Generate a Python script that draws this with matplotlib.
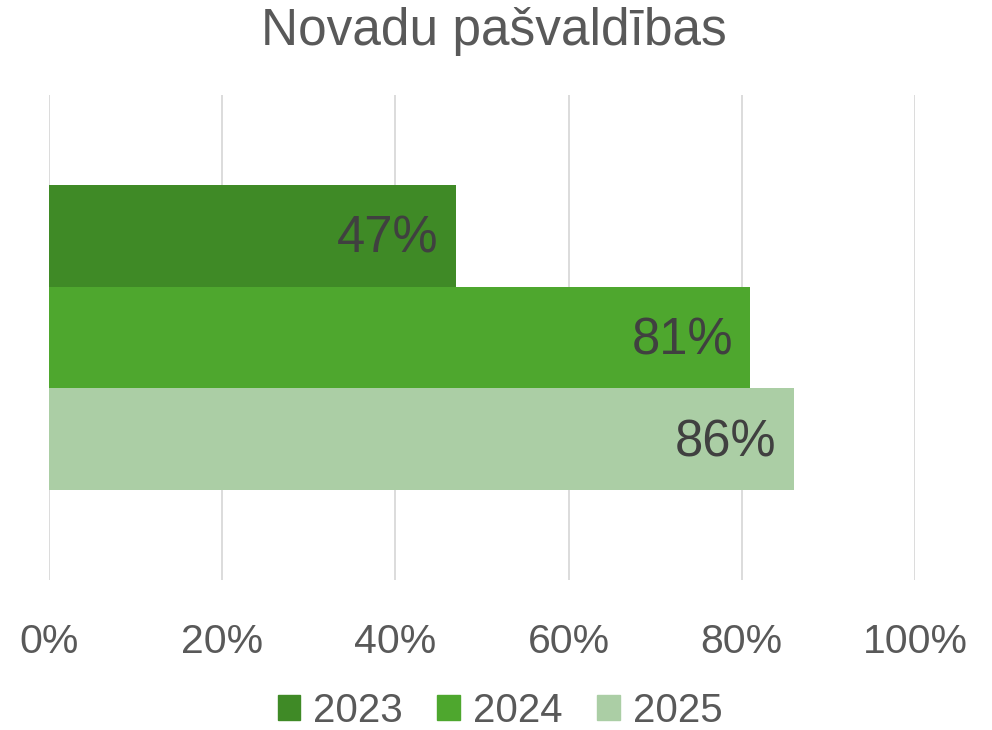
import matplotlib
matplotlib.use("Agg")
import matplotlib.pyplot as plt
from matplotlib.patches import Patch
from matplotlib.ticker import PercentFormatter

plt.rcParams['font.family'] = ['Liberation Sans', 'DejaVu Sans']

title = "Novadu pašvaldības"
years = ["2023", "2024", "2025"]
values = [47, 81, 86]
colors = ["#3f8a26", "#4ea72e", "#abcea5"]
ticks = [0, 20, 40, 60, 80, 100]

fig = plt.figure(figsize=(9.92, 7.30), dpi=100)
W, H = 992, 730
ax = fig.add_axes([49 / W, 1 - 580 / H, (915 - 49) / W, (580 - 95) / H])

n = len(years)
bh = 0.21
for i, (y, v, c) in enumerate(zip(years, values, colors)):
    pos = (i - (n - 1) / 2) * bh
    ax.barh(pos, v, height=bh, color=c, zorder=3, label=y)
    ax.annotate(f"{v}%", xy=(v, pos), xytext=(-12.5, -2.5), textcoords="offset points",
                ha="right", va="center", fontsize=36.5, color="#404040", zorder=4)

ax.set_ylim(0.5, -0.5)
ax.set_xlim(0, 100)
ax.set_xticks(ticks)
ax.xaxis.set_major_formatter(PercentFormatter(decimals=0))
ax.tick_params(axis="x", length=0, labelsize=29.5, colors="#595959", pad=31)
ax.set_yticks([])
ax.grid(axis="x", color="#d9d9d9", linewidth=1.3, zorder=0)
for s in ax.spines.values():
    s.set_visible(False)

fig.suptitle(title, x=494 / W, y=1 - 32 / H, va="center", fontsize=37, color="#595959")

handles = [Patch(color=c, label=y) for y, c in zip(years, colors)]
fig.legend(handles=handles, loc="center", bbox_to_anchor=(500 / W, 1 - 711 / H),
           ncol=3, frameon=False, fontsize=29, labelcolor="#595959",
           handlelength=0.56, handleheight=0.56, handletextpad=0.33, columnspacing=0.85,
           borderpad=0.1)

fig.savefig("out.png", dpi=100)
